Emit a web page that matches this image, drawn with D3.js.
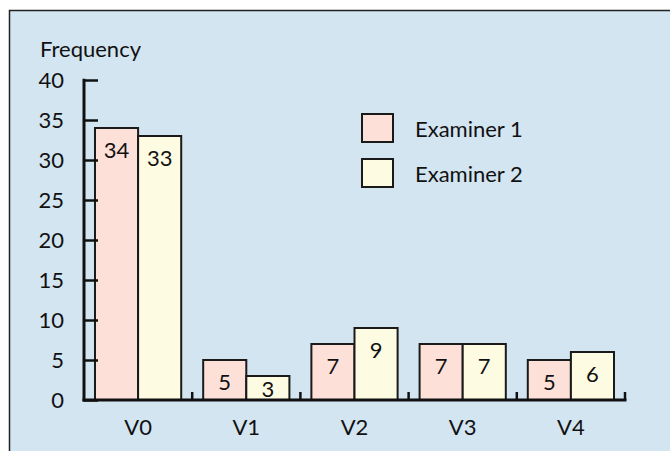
<!DOCTYPE html>
<html>

<head>
  <meta charset="utf-8" />
  <title>Frequency by examiner</title>
  <style>
    body {
      margin: 0;
      background: #fff;
    }

    svg text {
      font-family: Lato, "Open Sans", sans-serif;
      fill: #111;
    }
  </style>
  <script src="https://cdnjs.cloudflare.com/ajax/libs/d3/7.8.5/d3.min.js"></script>
</head>

<body>
  <div id="chartArea"></div>
  <script>
    var categories = ['V0', 'V1', 'V2', 'V3', 'V4'];
    var seriesNames = ['Examiner 1', 'Examiner 2'];
    var examiner1 = [34, 5, 7, 7, 5];
    var examiner2 = [33, 3, 9, 7, 6];
    var yTicks = [0, 5, 10, 15, 20, 25, 30, 35, 40];

    var colors = ['#fde0d8', '#fdfbe2'];
    var w = 670,
      h = 451;
    var x0 = 84, x1 = 625, yBase = 400, yTop = 80;
    var fs = 22;

    var svg = d3.select('#chartArea').append('svg')
      .attr('width', w)
      .attr('height', h);

    // panel
    svg.append('rect')
      .attr('x', 9.5).attr('y', 10.5)
      .attr('width', w + 20).attr('height', h + 20)
      .attr('fill', '#d3e5f1')
      .attr('stroke', '#222')
      .attr('stroke-width', 1.5);

    var xScale = d3.scaleBand()
      .domain(categories)
      .range([x0, x1])
      .paddingInner(0)
      .paddingOuter(0);

    var inner = d3.scaleBand()
      .domain(seriesNames)
      .range([0, xScale.bandwidth()])
      .paddingOuter(0.255)
      .paddingInner(0);

    var yScale = d3.scaleLinear()
      .domain([0, 40])
      .range([yBase, yTop]);

    var rows = [];
    categories.forEach(function (c, i) {
      rows.push({ cat: c, s: 0, v: examiner1[i] });
      rows.push({ cat: c, s: 1, v: examiner2[i] });
    });

    // bars
    svg.selectAll('rect.bar')
      .data(rows)
      .enter()
      .append('rect')
      .attr('class', 'bar')
      .attr('x', d => xScale(d.cat) + inner(seriesNames[d.s]))
      .attr('y', d => yScale(d.v))
      .attr('width', inner.bandwidth())
      .attr('height', d => yBase - yScale(d.v))
      .attr('fill', d => colors[d.s])
      .attr('stroke', '#1a1a1a')
      .attr('stroke-width', 2);

    // value labels
    svg.selectAll('text.val')
      .data(rows)
      .enter()
      .append('text')
      .attr('class', 'val')
      .attr('x', d => xScale(d.cat) + inner(seriesNames[d.s]) + inner.bandwidth() / 2)
      .attr('y', d => Math.min(yScale(d.v) + 30, yBase - 3))
      .attr('text-anchor', 'middle')
      .attr('font-size', fs)
      .text(d => d.v);

    // y axis
    var yAxis = d3.axisRight(yScale)
      .tickValues(yTicks)
      .tickSize(14)
      .tickFormat('');
    var gy = svg.append('g')
      .attr('transform', 'translate(' + x0 + ',0)')
      .call(yAxis);
    gy.select('.domain').remove();
    gy.selectAll('.tick line').attr('stroke', '#111').attr('stroke-width', 2.5);
    svg.append('line')
      .attr('x1', x0).attr('x2', x0)
      .attr('y1', yScale(40) - 1.25).attr('y2', yBase + 1.5)
      .attr('stroke', '#111').attr('stroke-width', 3);

    svg.selectAll('text.ytick')
      .data(yTicks)
      .enter()
      .append('text')
      .attr('class', 'ytick')
      .attr('x', x0 - 20)
      .attr('y', d => yScale(d) + 8)
      .attr('text-anchor', 'end')
      .attr('font-size', fs)
      .text(d => d);

    // x axis
    svg.append('line')
      .attr('x1', x0 - 1.5).attr('x2', x1 + 1.5)
      .attr('y1', yBase).attr('y2', yBase)
      .attr('stroke', '#111').attr('stroke-width', 3);

    svg.selectAll('line.xtick')
      .data(categories)
      .enter()
      .append('line')
      .attr('class', 'xtick')
      .attr('x1', d => xScale(d) + xScale.bandwidth())
      .attr('x2', d => xScale(d) + xScale.bandwidth())
      .attr('y1', yBase).attr('y2', yBase - 8)
      .attr('stroke', '#111').attr('stroke-width', 2.5);

    svg.selectAll('text.xlab')
      .data(categories)
      .enter()
      .append('text')
      .attr('class', 'xlab')
      .attr('x', d => xScale(d) + xScale.bandwidth() / 2)
      .attr('y', 435)
      .attr('text-anchor', 'middle')
      .attr('font-size', fs)
      .text(d => d);

    // axis title
    svg.append('text')
      .attr('x', 40)
      .attr('y', 57)
      .attr('font-size', fs)
      .text('Frequency');

    // legend
    var legend = svg.selectAll('g.legend')
      .data(seriesNames)
      .enter()
      .append('g')
      .attr('class', 'legend')
      .attr('transform', (d, i) => 'translate(362,' + (114 + i * 45) + ')');
    legend.append('rect')
      .attr('width', 31).attr('height', 28)
      .attr('fill', (d, i) => colors[i])
      .attr('stroke', '#1a1a1a')
      .attr('stroke-width', 2);
    legend.append('text')
      .attr('x', 53)
      .attr('y', 23)
      .attr('font-size', fs)
      .text(d => d);
  </script>
</body>

</html>
